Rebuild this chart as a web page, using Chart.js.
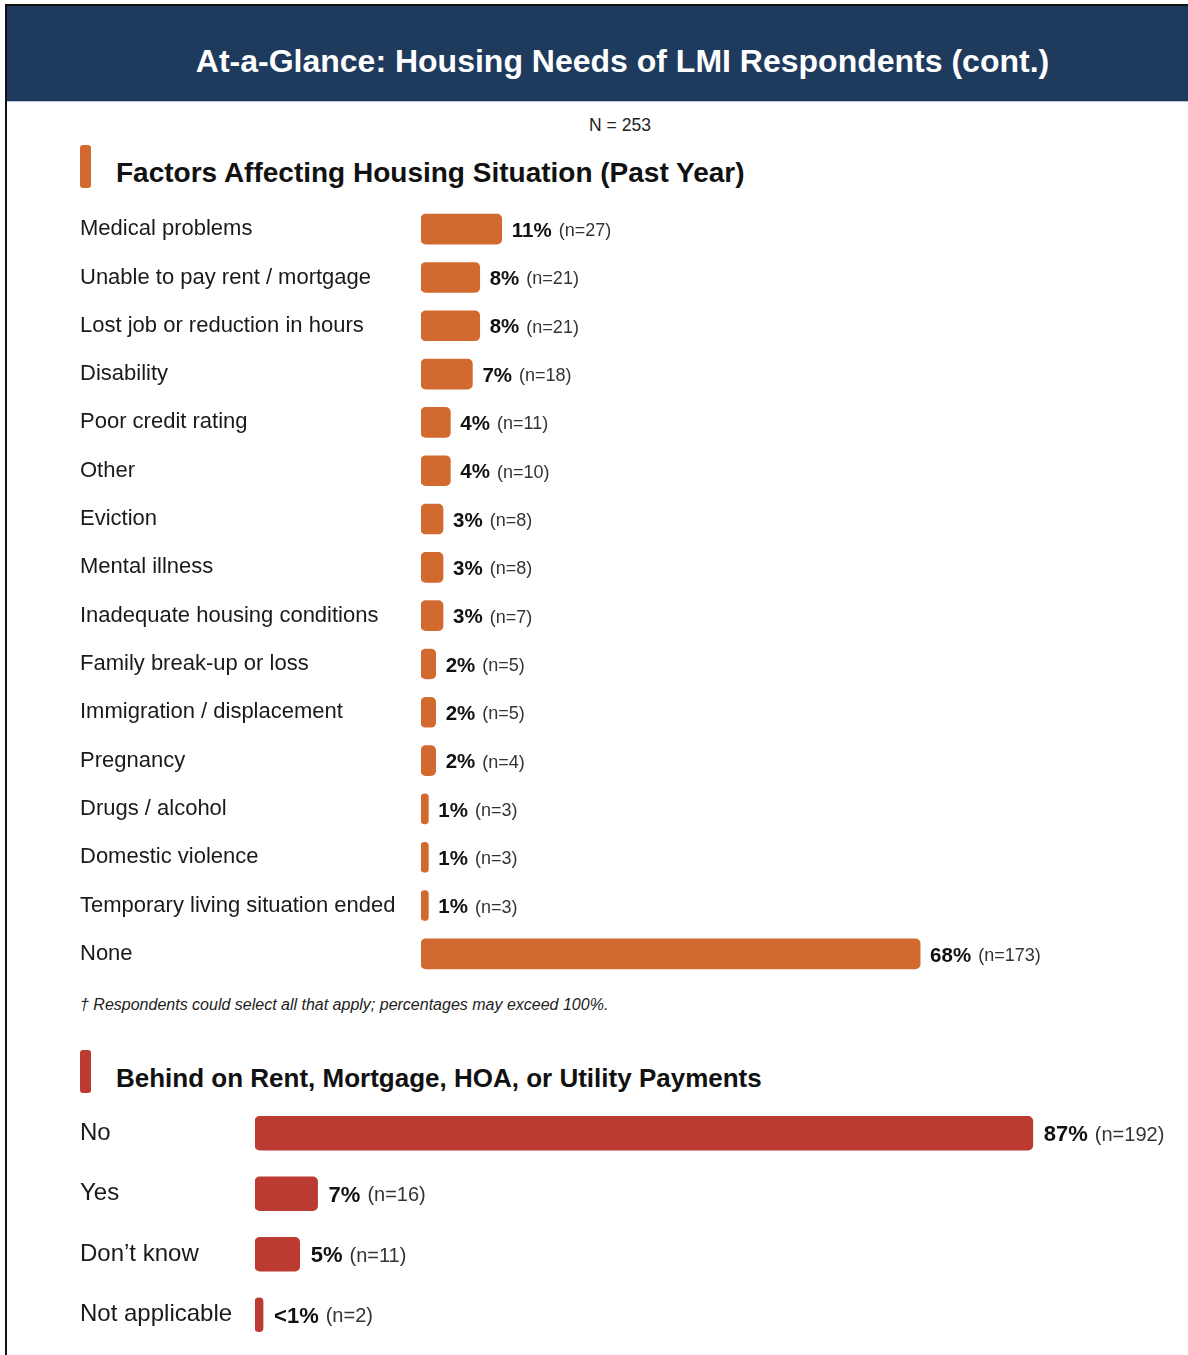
<!DOCTYPE html>
<html>
<head>
<meta charset="utf-8">
<script src="https://cdn.jsdelivr.net/npm/chart.js@4.4.1/dist/chart.umd.min.js"></script>
<style>
  html, body { margin: 0; padding: 0; background: #fff; }
  body { width: 1188px; height: 1355px; position: relative; overflow: hidden;
         font-family: "Liberation Sans", Arial, Helvetica, sans-serif; color: #1a1a1a; }
  .frame { position: absolute; left: 5px; top: 4px; width: 1183px; height: 1351px;
           border-top: 2px solid #111; border-left: 2px solid #111; box-sizing: border-box; }
  .banner { position: absolute; left: 7px; top: 6px; width: 1181px; height: 95px; background: #1e3a5d;
            border-bottom: 1px solid #b9c7d6; }
  .banner h1 { margin: 0; position: absolute; left: 0; right: 0; top: 0; line-height: 111px; height: 95px;
               text-align: center; color: #fff; font-size: 32px; font-weight: bold; padding-left: 50px; }
  .ncount { position: absolute; left: 0; width: 1240px; top: 115px; text-align: center; font-size: 17.5px; color: #222; }
  .marker { position: absolute; left: 80px; width: 11px; border-radius: 3px; }
  .sect { position: absolute; left: 116px; font-weight: bold; color: #111; margin: 0; }
  .note { position: absolute; left: 80px; top: 996px; font-size: 16px; font-style: italic; color: #222; }
  canvas { position: absolute; left: 0; }
</style>
</head>
<body>
<div class="frame"></div>
<div class="banner"><h1>At-a-Glance: Housing Needs of LMI Respondents (cont.)</h1></div>
<div class="ncount">N = 253</div>

<div class="marker" style="top:145px;height:43px;background:#d2692f;"></div>
<h2 class="sect" style="top:157px;font-size:28px;">Factors Affecting Housing Situation (Past Year)</h2>
<div style="position:absolute;left:0;top:205px;width:1188px;height:773px;"><canvas id="factors"></canvas></div>
<div class="note">† Respondents could select all that apply; percentages may exceed 100%.</div>

<div class="marker" style="top:1050px;height:43px;background:#bb3a32;"></div>
<h2 class="sect" style="top:1063px;font-size:26px;">Behind on Rent, Mortgage, HOA, or Utility Payments</h2>
<div style="position:absolute;left:0;top:1103px;width:1188px;height:242px;"><canvas id="behind"></canvas></div>

<script>
// Factors affecting housing situation in the past year (multi-select)
const factorCategories = [
  "Medical problems", "Unable to pay rent / mortgage", "Lost job or reduction in hours",
  "Disability", "Poor credit rating", "Other", "Eviction", "Mental illness",
  "Inadequate housing conditions", "Family break-up or loss", "Immigration / displacement",
  "Pregnancy", "Drugs / alcohol", "Domestic violence", "Temporary living situation ended", "None"
];
const factorPercents = [11, 8, 8, 7, 4, 4, 3, 3, 3, 2, 2, 2, 1, 1, 1, 68];
const factorCounts = [27, 21, 21, 18, 11, 10, 8, 8, 7, 5, 5, 4, 3, 3, 3, 173];

// Behind on rent, mortgage, HOA, or utility payments
const behindCategories = ["No", "Yes", "Don\u2019t know", "Not applicable"];
const behindPercents = [87, 7, 5, 0.9];
const behindPercentLabels = ["87%", "7%", "5%", "<1%"];
const behindCounts = [192, 16, 11, 2];

const FONT = '"Liberation Sans", Arial, Helvetica, sans-serif';

// Draws "xx% (n=yy)" just past the end of each bar
function valueLabels(pctTexts, counts, boldSize, normSize, gap) {
  return {
    id: 'valueLabels',
    afterDatasetsDraw(chart) {
      const ctx = chart.ctx;
      const meta = chart.getDatasetMeta(0);
      ctx.save();
      ctx.textBaseline = 'middle';
      ctx.textAlign = 'left';
      meta.data.forEach((bar, i) => {
        let x = bar.x + gap;
        const y = bar.y + 2;
        ctx.fillStyle = '#111';
        ctx.font = 'bold ' + boldSize + 'px ' + FONT;
        const p = pctTexts[i];
        ctx.fillText(p, x, y);
        x += ctx.measureText(p).width + 7;
        ctx.fillStyle = '#333';
        ctx.font = normSize + 'px ' + FONT;
        ctx.fillText('(n=' + counts[i] + ')', x, y);
      });
      ctx.restore();
    }
  };
}

function makeBarChart(id, cats, values, color, opts) {
  return new Chart(document.getElementById(id), {
    type: 'bar',
    data: {
      labels: cats,
      datasets: [{
        data: values,
        backgroundColor: color,
        borderRadius: opts.radius,
        borderSkipped: false,
        barThickness: opts.thickness
      }]
    },
    options: {
      indexAxis: 'y',
      responsive: true,
      maintainAspectRatio: false,
      animation: false,
      layout: { padding: { left: 80, right: opts.padRight, top: 0, bottom: 0 } },
      plugins: { legend: { display: false }, tooltip: { enabled: false } },
      scales: {
        x: { display: false, min: 0, max: 100 },
        y: {
          grid: { display: false },
          border: { display: false },
          ticks: {
            crossAlign: 'far',
            color: '#1a1a1a',
            padding: 0,
            font: { family: FONT, size: opts.labelSize }
          },
          afterFit(scale) {
            scale.width = opts.axisWidth;
            scale.paddingTop = 0;
            scale.paddingBottom = 0;
          }
        }
      }
    },
    plugins: [valueLabels(opts.pctTexts, opts.counts, opts.boldSize, opts.normSize, opts.gap)]
  });
}

makeBarChart('factors', factorCategories, factorPercents, '#d2692f', {
  radius: 5, thickness: 30, padRight: 33, axisWidth: 341, labelSize: 22,
  pctTexts: factorPercents.map(v => v + '%'), counts: factorCounts,
  boldSize: 20.5, normSize: 18, gap: 10
});

makeBarChart('behind', behindCategories, behindPercents, '#bb3a32', {
  radius: 5, thickness: 34, padRight: 39, axisWidth: 175, labelSize: 24,
  pctTexts: behindPercentLabels, counts: behindCounts,
  boldSize: 22, normSize: 20, gap: 11
});
</script>
</body>
</html>
